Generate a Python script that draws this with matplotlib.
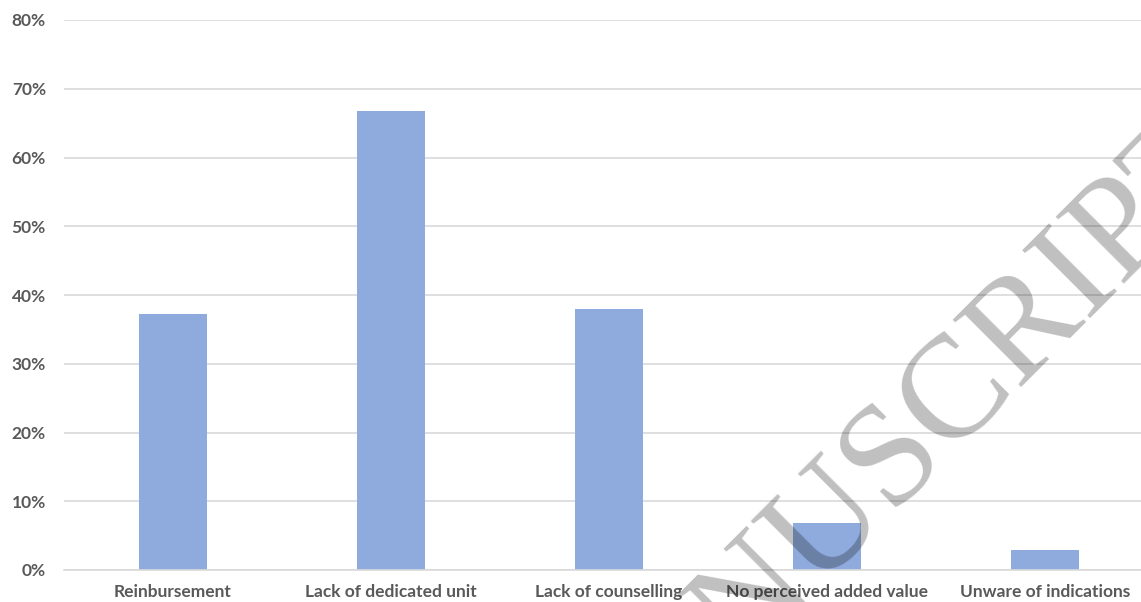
import matplotlib
matplotlib.use("Agg")
import matplotlib.pyplot as plt
from matplotlib.ticker import PercentFormatter

# barriers reported, share of respondents
categories = ["Reinbursement", "Lack of dedicated unit", "Lack of counselling",
              "No perceived added value", "Unware of indications"]
shares = [0.373, 0.668, 0.380, 0.069, 0.029]
yticks = [0.0, 0.1, 0.2, 0.3, 0.4, 0.5, 0.6, 0.7, 0.8]

BAR = "#8faadc"
GRID = "#d9d9d9"
TXT = "#595959"

plt.rcParams["font.family"] = ["Lato", "DejaVu Sans"]

W, H = 1141, 602
fig = plt.figure(figsize=(W / 100, H / 100), dpi=100)
# plot area runs past the right edge of the figure
ax = fig.add_axes([64 / W, 1 - 570 / H, 1090 / W, 550 / H])

x = list(range(len(categories)))
ax.bar(x, shares, width=0.31, color=BAR, zorder=2)

ax.set_xlim(-0.5, len(categories) - 0.5)
ax.set_ylim(0, 0.8)
ax.set_yticks(yticks)
ax.yaxis.set_major_formatter(PercentFormatter(1.0, decimals=0))
ax.set_xticks(x)
ax.set_xticklabels(categories)

ax.grid(axis="y", color=GRID, linewidth=1.2, zorder=0)
for side in ("top", "right", "left"):
    ax.spines[side].set_visible(False)
ax.spines["bottom"].set_color(GRID)
ax.spines["bottom"].set_linewidth(1.2)
ax.tick_params(axis="both", length=0, colors=TXT, labelsize=12.5)
ax.tick_params(axis="y", pad=13)
ax.tick_params(axis="x", pad=10)
for lab in ax.get_xticklabels() + ax.get_yticklabels():
    lab.set_fontweight("bold")

# publisher stamp across the plot
fig.text(884 / W, 1 - 471 / H, "MANUSCRIPT", rotation=45, rotation_mode="anchor",
         ha="center", va="center", fontsize=105, family="Liberation Serif",
         color="black", alpha=0.25, zorder=10)

fig.savefig("out.png", dpi=100)
